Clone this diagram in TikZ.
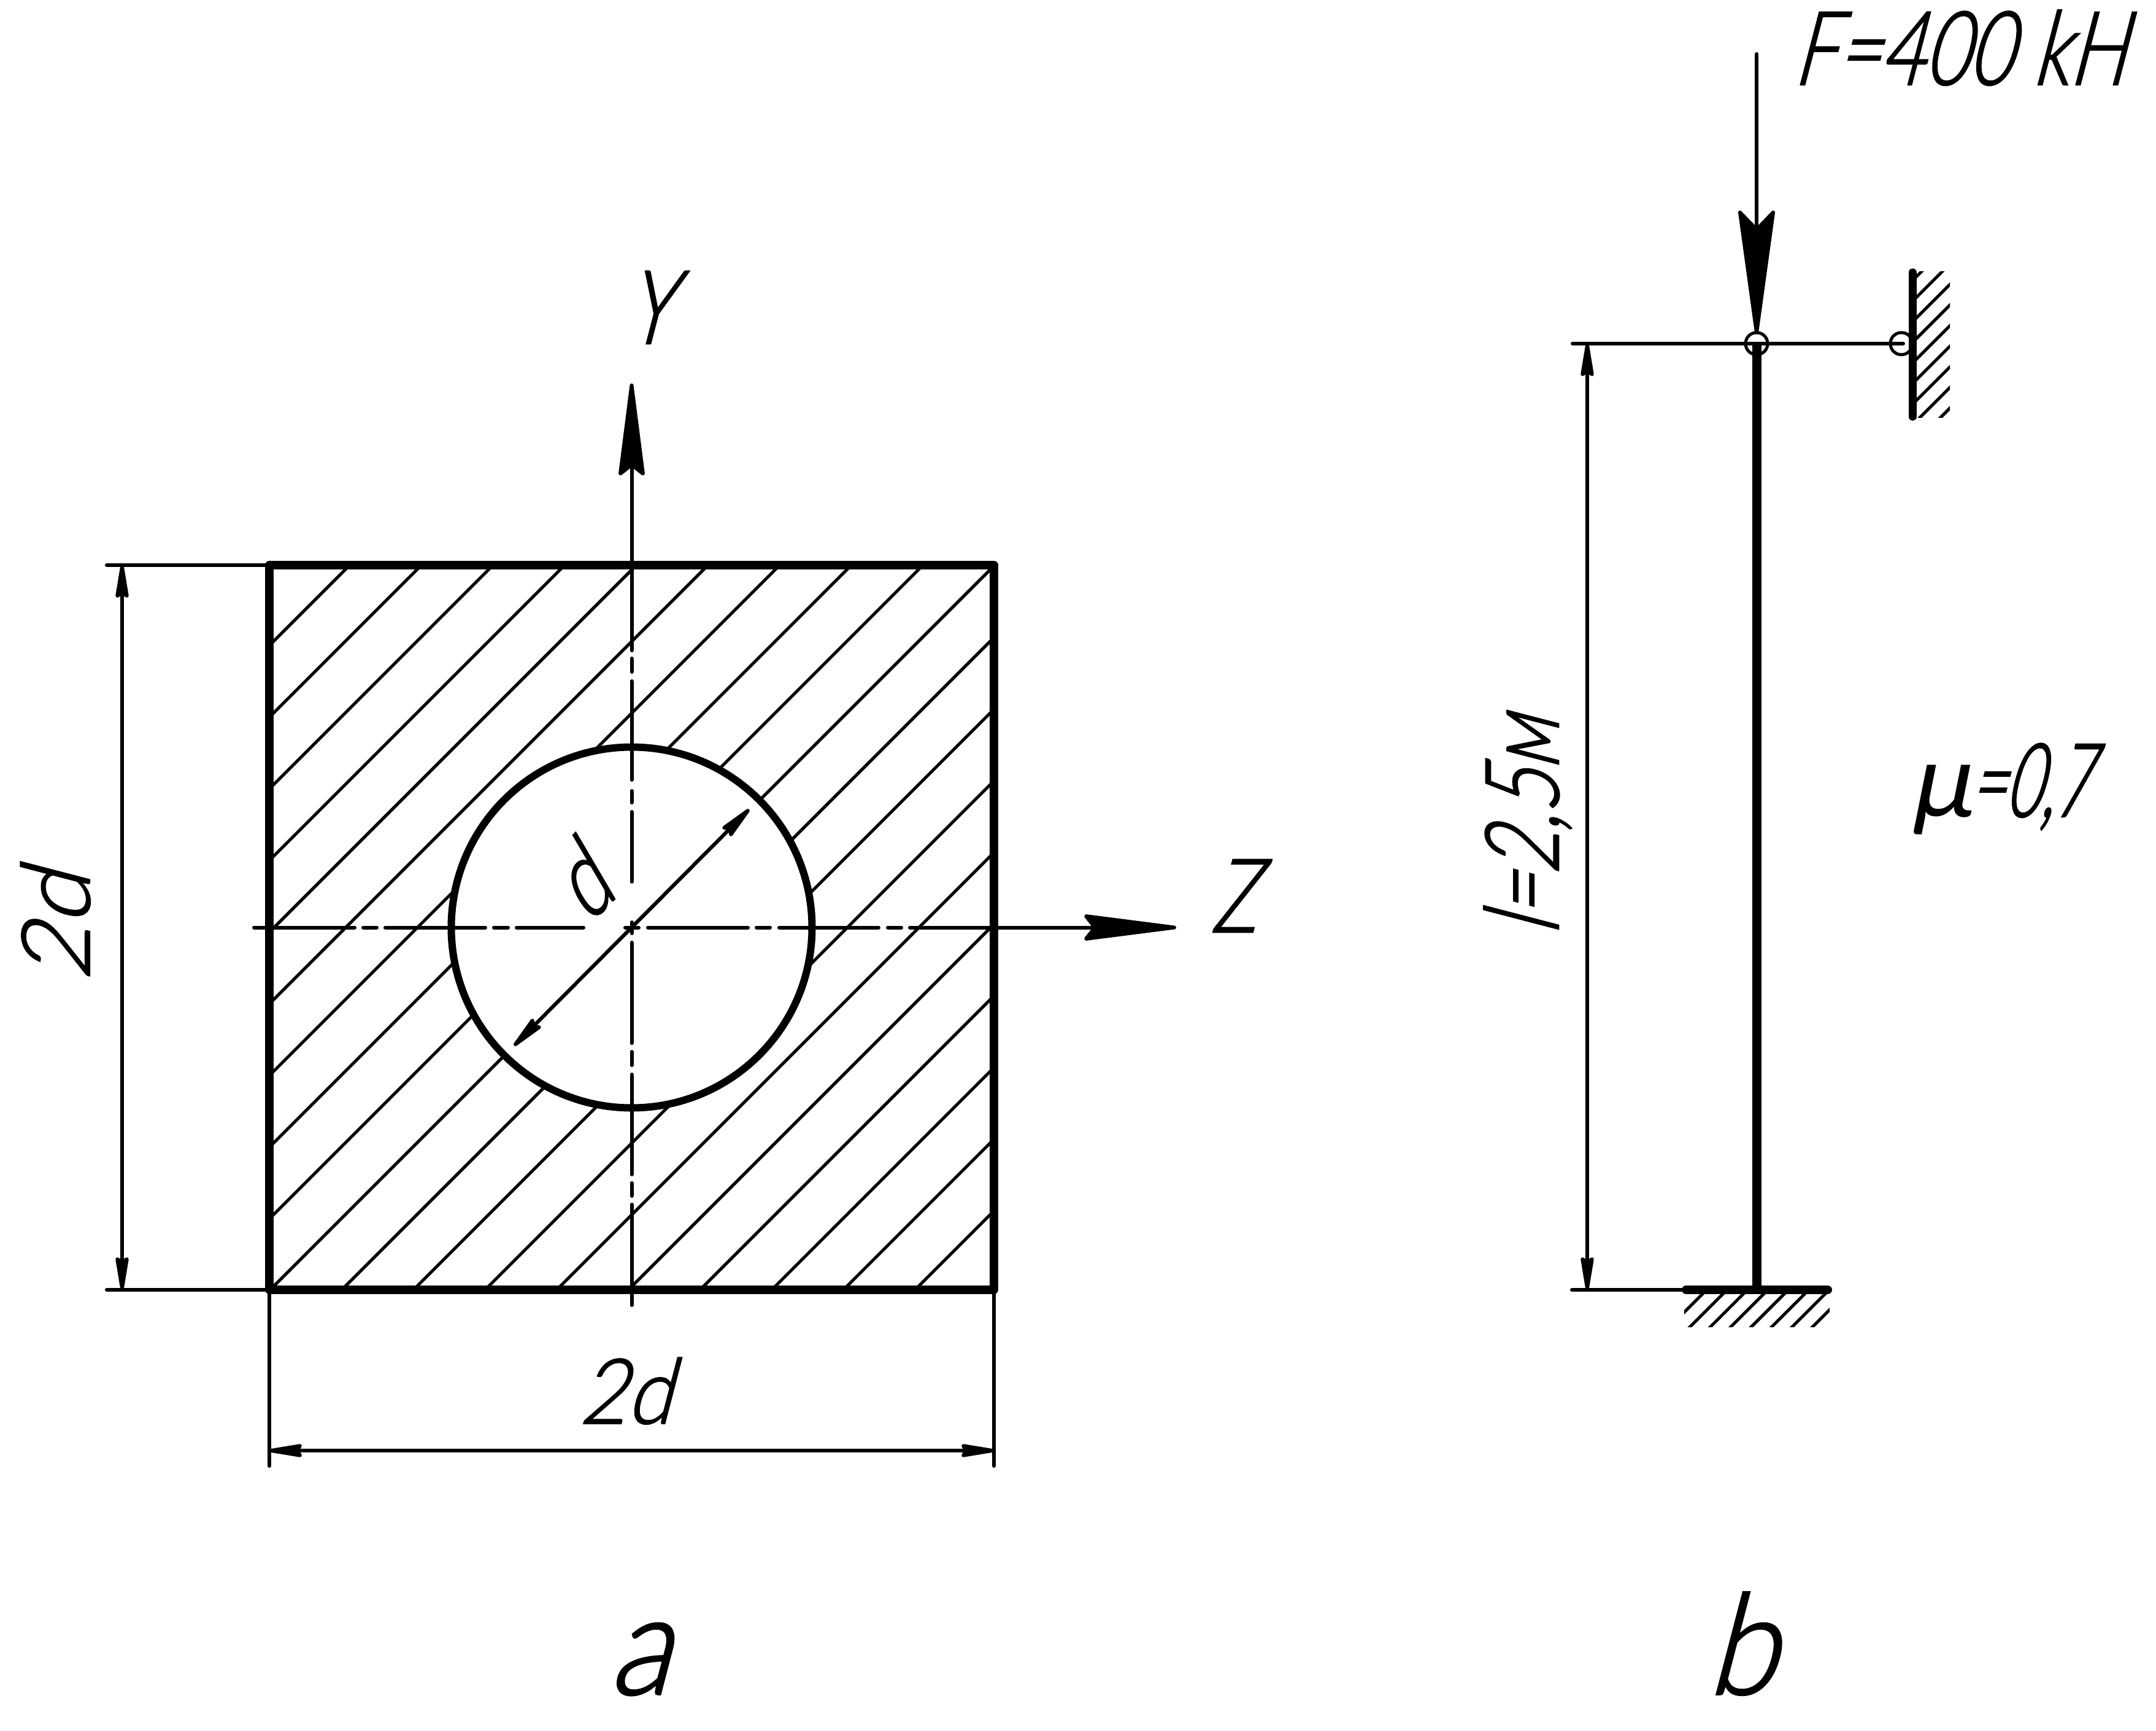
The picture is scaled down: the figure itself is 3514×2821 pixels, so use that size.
\documentclass[tikz,border=0pt]{standalone}
\usepackage{fontspec}
\usetikzlibrary{arrows.meta}
\newfontfamily\gost[FakeSlant=0.26,FakeStretch=0.74,FakeBold=1.5]{Lato Light}
\newfontfamily\gostn[FakeSlant=0.26,FakeStretch=0.60,FakeBold=1.5]{Lato Light}
\newfontfamily\gostw[FakeSlant=0.26,FakeStretch=0.90,FakeBold=1.5]{Lato Light}
\newfontfamily\gostx[FakeSlant=0.26,FakeStretch=1.02,FakeBold=1.5]{Lato Light}
\newfontfamily\gostmu[FakeSlant=0.2,FakeStretch=1.0]{Lato}
\tikzset{
  thn/.style={line width=0.6mm,line cap=round,black},
  hatchline/.style={line width=0.5mm,black},
  hvy/.style={line width=1.35mm,line cap=round,line join=round,black},
  dimtip/.style={-{Stealth[length=7.2mm,width=2.3mm,inset=0.8mm,round]}},
  axistip/.style={-{Stealth[length=17.4mm,width=4.4mm,inset=1.7mm,round]}},
  forcetip/.style={-{Stealth[length=22.6mm,width=6.2mm,inset=3.2mm,round]}},
  lbl/.style={inner sep=0pt,outer sep=0pt,black,font=\gost\fontsize{47.5}{50}\selectfont,anchor=base},
  biglbl/.style={lbl,font=\gostw\fontsize{65}{70}\selectfont},
  hinge/.style={circle,draw=black,line width=0.5mm,fill=none,inner sep=0pt,minimum size=3.6mm}
}
\begin{document}
\begin{tikzpicture}[x=0.01cm,y=-0.01cm]
\useasboundingbox (0,0) rectangle (3514,2821);
% named points
\coordinate (SqTL) at (439,921);
\coordinate (SqBR) at (1620,2102);
\coordinate (SqBL) at (439,2102);
\coordinate (SqTR) at (1620,921);
\coordinate (C) at (1029.5,1511.5);
% hatching of the section
\begin{scope}
\clip (SqTL) rectangle (SqBR);
\foreach \k in {0,...,18}{
  \pgfmathsetmacro{\c}{1491+116.8*\k}
  \draw[hatchline] (\c-2200,2200) -- (\c-800,800);
}
\end{scope}
\fill[white] (C) circle [radius=294];
\draw[hvy,line width=1.2mm] (C) circle [radius=294];
\draw[hvy] (SqTL) rectangle (SqBR);
% centre lines
\foreach \a/\b in {414/578,592/614,628/791,805/828,842/951,1019/1041,1056/1219,1233/1255,1270/1432,1447/1469}{
  \draw[thn] (\a,1511.5) -- (\b,1511.5);
}
\coordinate (ZS) at (1483,1511.5);
\coordinate (ZE) at (1917,1511.5);
\draw[thn,axistip] (ZS) -- (ZE);
\foreach \a/\b in {1073/1095,1110/1271,1289/1308,1323/1437,1503/1521,1536/1700,1714/1736,1751/1914,1928/1949,1963/2127}{
  \draw[thn] (1029.5,\a) -- (1029.5,\b);
}
\coordinate (YS) at (1029.5,1060);
\coordinate (YE) at (1029.5,625);
\draw[thn,axistip] (YS) -- (YE);
% diameter
\coordinate (D1) at (1221,1319);
\coordinate (D2) at (838,1704);
\draw[thn,dimtip] (C) -- (D1);
\draw[thn,dimtip] (C) -- (D2);
% dimensions of the section
\coordinate (ET1) at (174,921);
\coordinate (ET2) at (174,2102);
\draw[thn] (ET1) -- (SqTL);
\draw[thn] (ET2) -- (SqBL);
\coordinate (DLT) at (199,921);
\coordinate (DLB) at (199,2102);
\coordinate (DLM) at (199,1511);
\draw[thn,dimtip] (DLM) -- (DLT);
\draw[thn,dimtip] (DLM) -- (DLB);
\coordinate (EL) at (439,2389);
\coordinate (ER) at (1620,2389);
\draw[thn] (SqBL) -- (EL);
\draw[thn] (SqBR) -- (ER);
\coordinate (DBL) at (439,2364);
\coordinate (DBR) at (1620,2364);
\coordinate (DBM) at (1030,2364);
\draw[thn,dimtip] (DBM) -- (DBL);
\draw[thn,dimtip] (DBM) -- (DBR);
% column
\coordinate (N) at (2863,560);
\coordinate (Foot) at (2863,2102);
\coordinate (FTop) at (2863,88);
\coordinate (FTip) at (2863,545);
\draw[line width=1.5mm,black] (N) -- (Foot);
\draw[thn,forcetip] (FTop) -- (FTip);
\node[hinge] (NC) at (N) {};
\node[hinge] (WC) at (3099,560) {};
\coordinate (LL) at (2563,560);
\coordinate (LR) at (3102,560);
\draw[thn] (LL) -- (LR);
% wall support
\coordinate (W1) at (3117,444);
\coordinate (W2) at (3117,679);
\draw[hvy,line width=1.3mm] (W1) -- (W2);
\begin{scope}
\clip (3123,442) rectangle (3178,680);
\foreach \k in {-1,...,8}{
  \pgfmathsetmacro{\c}{3608+33.6*\k}
  \draw[hatchline] (\c-800,800) -- (\c-400,400);
}
\end{scope}
% ground support
\coordinate (G1) at (2748,2102);
\coordinate (G2) at (2979,2102);
\draw[hvy,line width=1.4mm] (G1) -- (G2);
\begin{scope}
\clip (2745,2109) rectangle (2982,2162);
\foreach \k in {0,...,7}{
  \pgfmathsetmacro{\c}{4883.5+33.3*\k}
  \draw[hatchline] (\c-2200,2200) -- (\c-2100,2100);
}
\end{scope}
% length dimension
\coordinate (LE) at (2562,2102);
\draw[thn] (LE) -- (G1);
\coordinate (LT) at (2587,560);
\coordinate (LB) at (2587,2102);
\coordinate (LM) at (2587,1331);
\draw[thn,dimtip] (LM) -- (LT);
\draw[thn,dimtip] (LM) -- (LB);
% labels
\node[lbl,anchor=base west] (tF) at (2922,138) {F=400 kH};
\node[lbl] (tY) at (1057,560) {Y};
\node[lbl] (tZ) at (2010,1519) {Z};
\node[lbl,rotate=90,font=\gostx\fontsize{44}{50}\selectfont] (t2dL) at (146,1510) {2d};
\node[lbl,font=\gostw\fontsize{42}{50}\selectfont] (t2dB) at (1019,2320) {2d};
\node[lbl,rotate=45] (td) at (985,1482) {d};
\node[lbl,rotate=90] (tl) at (2540,1347) {l=2,5м};
\node[lbl,anchor=base west,font=\gostn\fontsize{47.5}{50}\selectfont] (tmu) at (3112,1331) {{\gostmu μ}\kern-0.02em=0,7};
\node[biglbl] (ta) at (1042,2761) {a};
\node[biglbl] (tb) at (2838,2761) {b};
\end{tikzpicture}
\end{document}
